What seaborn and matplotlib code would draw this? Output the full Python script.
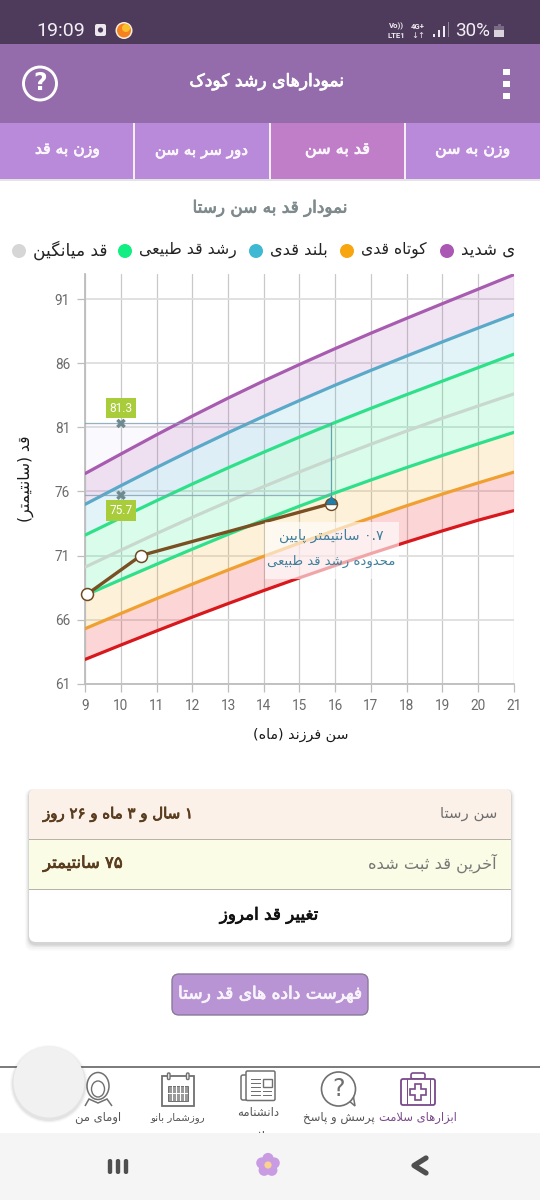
import re
import numpy as np
import pandas as pd
import matplotlib
matplotlib.use("Agg")
import matplotlib.pyplot as plt
import matplotlib.patheffects as pe
import seaborn as sns
from matplotlib.patches import Rectangle, Circle, FancyBboxPatch, Polygon, Ellipse, Wedge
from matplotlib.path import Path

# ---------- data ----------
months = [9, 10, 11, 12, 13, 14, 15, 16, 17, 18, 19, 20, 21]
severe_tall = [77.4, 78.92, 80.42, 81.88, 83.28, 84.62, 85.9, 87.14, 88.34, 89.5, 90.64, 91.77, 92.9]
tall = [75.0, 76.45, 77.87, 79.25, 80.58, 81.86, 83.09, 84.29, 85.44, 86.56, 87.66, 88.74, 89.8]
normal_high = [72.6, 73.95, 75.28, 76.58, 77.84, 79.06, 80.24, 81.38, 82.48, 83.55, 84.6, 85.65, 86.7]
mean_height = [70.1, 71.42, 72.72, 73.98, 75.2, 76.38, 77.52, 78.62, 79.68, 80.71, 81.71, 82.66, 83.6]
normal_low = [67.9, 69.12, 70.32, 71.5, 72.65, 73.77, 74.85, 75.89, 76.89, 77.86, 78.8, 79.71, 80.6]
short = [65.3, 66.48, 67.64, 68.77, 69.87, 70.94, 71.97, 72.97, 73.94, 74.88, 75.79, 76.66, 77.5]
severe_short = [62.9, 64.02, 65.12, 66.2, 67.25, 68.27, 69.26, 70.22, 71.15, 72.05, 72.92, 73.75, 74.5]

baby_months = [9.06, 10.56, 15.88]
baby_height = [68.0, 71.0, 75.05]
guide_month = 10
guide_values = [81.3, 75.7]

x_ticks = list(range(9, 22))
y_ticks = [61, 66, 71, 76, 81, 86, 91]

legend_labels = ["قد میانگین", "رشد قد طبیعی", "بلند قدی", "کوتاه قدی", "قدی شدید"]
legend_colors = ["#d6d6d6", "#12ee82", "#3fb8d4", "#f7a60f", "#ab58b4"]
tab_labels = ["وزن به قد", "دور سر به سن", "قد به سن", "وزن به سن"]
nav_labels = ["اومای من", "روزشمار بانو", "دانشنامه", "پرسش و پاسخ", "ابزارهای سلامت"]

# ---------- Persian shaping: matplotlib has no bidi or joining ----------
FORMS = {
    'آ': (0xFE81, 0xFE82), 'ا': (0xFE8D, 0xFE8E), 'د': (0xFEA9, 0xFEAA), 'ذ': (0xFEAB, 0xFEAC),
    'ر': (0xFEAD, 0xFEAE), 'ز': (0xFEAF, 0xFEB0), 'و': (0xFEED, 0xFEEE), 'ژ': (0xFB8A, 0xFB8B),
    'ب': (0xFE8F, 0xFE90, 0xFE91, 0xFE92), 'ت': (0xFE95, 0xFE96, 0xFE97, 0xFE98),
    'ث': (0xFE99, 0xFE9A, 0xFE9B, 0xFE9C), 'ج': (0xFE9D, 0xFE9E, 0xFE9F, 0xFEA0),
    'ح': (0xFEA1, 0xFEA2, 0xFEA3, 0xFEA4), 'خ': (0xFEA5, 0xFEA6, 0xFEA7, 0xFEA8),
    'س': (0xFEB1, 0xFEB2, 0xFEB3, 0xFEB4), 'ش': (0xFEB5, 0xFEB6, 0xFEB7, 0xFEB8),
    'ص': (0xFEB9, 0xFEBA, 0xFEBB, 0xFEBC), 'ض': (0xFEBD, 0xFEBE, 0xFEBF, 0xFEC0),
    'ط': (0xFEC1, 0xFEC2, 0xFEC3, 0xFEC4), 'ظ': (0xFEC5, 0xFEC6, 0xFEC7, 0xFEC8),
    'ع': (0xFEC9, 0xFECA, 0xFECB, 0xFECC), 'غ': (0xFECD, 0xFECE, 0xFECF, 0xFED0),
    'ف': (0xFED1, 0xFED2, 0xFED3, 0xFED4), 'ق': (0xFED5, 0xFED6, 0xFED7, 0xFED8),
    'ل': (0xFEDD, 0xFEDE, 0xFEDF, 0xFEE0), 'م': (0xFEE1, 0xFEE2, 0xFEE3, 0xFEE4),
    'ن': (0xFEE5, 0xFEE6, 0xFEE7, 0xFEE8), 'ه': (0xFEE9, 0xFEEA, 0xFEEB, 0xFEEC),
    'پ': (0xFB56, 0xFB57, 0xFB58, 0xFB59), 'چ': (0xFB7A, 0xFB7B, 0xFB7C, 0xFB7D),
    'ک': (0xFB8E, 0xFB8F, 0xFB90, 0xFB91), 'گ': (0xFB92, 0xFB93, 0xFB94, 0xFB95),
    'ی': (0xFBFC, 0xFBFD, 0xFBFE, 0xFBFF),
}


def fa(s):
    out = []
    i, n = 0, len(s)
    prev_joins = False
    while i < n:
        c = s[i]
        if c not in FORMS:
            out.append(c)
            prev_joins = False
            i += 1
            continue
        if c == 'ل' and i + 1 < n and s[i + 1] == 'ا':
            out.append(chr(0xFEFC if prev_joins else 0xFEFB))
            prev_joins = False
            i += 2
            continue
        f = FORMS[c]
        next_ok = i + 1 < n and s[i + 1] in FORMS
        if len(f) == 2:
            out.append(chr(f[1] if prev_joins else f[0]))
            prev_joins = False
        else:
            if prev_joins and next_ok:
                out.append(chr(f[3]))
            elif prev_joins:
                out.append(chr(f[1]))
            elif next_ok:
                out.append(chr(f[2]))
            else:
                out.append(chr(f[0]))
            prev_joins = next_ok
        i += 1
    swap = {'(': ')', ')': '('}
    res = ''.join(swap.get(c, c) for c in reversed(out))
    return re.sub(r'[۰-۹][۰-۹.]*', lambda m: m.group()[::-1], res)


# ---------- figure ----------
sns.set_theme(style="white")
plt.rcParams['font.family'] = ['DejaVu Sans']
W, H = 540, 1200
fig = plt.figure(figsize=(W / 100, H / 100), dpi=100, facecolor='white')
ui = fig.add_axes([0, 0, 1, 1], zorder=0)
ui.set_xlim(0, W)
ui.set_ylim(H, 0)
ui.axis('off')
renderer = fig.canvas.get_renderer()


def rect(x0, y0, x1, y1, color, z=1, **kw):
    p = Rectangle((x0, y0), x1 - x0, y1 - y0, facecolor=color, edgecolor='none', zorder=z, **kw)
    ui.add_patch(p)
    return p


def txt(x0, x1, y, s, color='black', weight='normal', family='DejaVu Sans', z=5, size=10, shape=True):
    t = ui.text((x0 + x1) / 2, y, fa(s) if shape else s, color=color, family=family,
                ha='center', va='center', zorder=z, fontsize=size)
    w = t.get_window_extent(renderer).width
    t.set_fontsize(size * (x1 - x0) / w)
    if weight == 'bold':
        t.set_path_effects([pe.withStroke(linewidth=0.55, foreground=color)])
    return t


# status bar, header, tabs
rect(0, 0, W, 44, '#4e3b5c')
rect(0, 44, W, 123, '#946cab')
rect(0, 123, W, 179, '#b88ad9')
rect(270, 123, 405, 179, '#c17ec8', z=1.5)
for sx in (134, 270, 405):
    rect(sx - 0.8, 123, sx + 0.8, 179, '#f3eef6', z=2)
rect(0, 179, W, 180.5, '#e4e4e4', z=2)

txt(37, 85, 30.5, "19:09", '#f2eef4', family='Roboto', shape=False)
ui.add_patch(FancyBboxPatch((95, 24), 11, 12, boxstyle="round,pad=0,rounding_size=2", fc='#ece8ee', ec='none', zorder=3))
ui.add_patch(Circle((100.5, 30), 2.6, fc='#4e3b5c', ec='none', zorder=4))
ui.add_patch(Circle((124, 30.5), 8.5, fc='#f5f0e0', ec='none', zorder=3))
ui.add_patch(Circle((124, 30.5), 7, fc='#f5821f', ec='none', zorder=4))
ui.add_patch(Wedge((126, 28), 4, 0, 360, fc='#fbc02d', ec='none', zorder=4.5))
ui.text(396, 26.5, "Vo))", color='#eeeaf0', fontsize=5.6, family='Roboto', ha='center', va='center', fontweight='bold')
ui.text(396, 35, "LTE1", color='#eeeaf0', fontsize=5.6, family='Roboto', ha='center', va='center', fontweight='bold')
ui.text(418, 26.5, "4G+", color='#eeeaf0', fontsize=5.6, family='Roboto', ha='center', va='center', fontweight='bold')
ui.text(418, 35, "↓↑", color='#eeeaf0', fontsize=6, ha='center', va='center')
for bx, bh, bc in [(433, 3, '#eeeaf0'), (438, 7, '#eeeaf0'), (443, 11, '#eeeaf0'), (447.5, 15, '#8f8598')]:
    rect(bx, 37 - bh, bx + 1.6, 37, bc, z=3)
txt(455, 490, 31, "30%", '#f2eef4', family='Roboto', shape=False)
rect(494, 26, 504, 37, '#d8d2dc', z=3)
rect(494, 26, 504, 30, '#7a6a86', z=3.5)
rect(497.5, 23.5, 500.5, 26, '#7a6a86', z=3)

txt(189, 344, 81.5, "نمودارهای رشد کودک", 'white', 'bold')
ui.add_patch(Circle((40, 83.5), 16.5, fc='none', ec='white', lw=2.1, zorder=3))
ui.text(40, 83.5, "?", color='white', fontsize=17, fontweight='bold', ha='center', va='center', zorder=4)
for dy in (72, 84, 96):
    rect(503, dy - 3, 510, dy + 3, 'white', z=3)

tab_spans = [(35, 100), (155, 248), (305, 370), (435, 510)]
for lab, (a, b) in zip(tab_labels, tab_spans):
    txt(a, b, 150.5, lab, '#fbf7fd', 'bold')

txt(193, 348, 208, "نمودار قد به سن رستا", '#7f8a8d', 'bold')

# legend
dots = [19, 125, 256, 347, 447]
spans = [(33, 107), (139, 236.5), (270, 328), (361, 427)]
for lab, col, dx, (a, b) in zip(legend_labels[:4], legend_colors[:4], dots[:4], spans):
    ui.add_patch(Circle((dx, 251), 7, fc=col, ec='none', zorder=3))
    txt(a, b, 250, lab, '#222222')
ui.add_patch(Circle((dots[4], 251), 7, fc=legend_colors[4], ec='none', zorder=3))
last = ui.text(461, 250, fa(legend_labels[4]), color='#222222', fontsize=12, ha='left', va='center', zorder=5)
last.set_clip_on(True)
last.set_clip_path(Rectangle((455, 235), 59, 30, transform=ui.transData))

# ---------- chart ----------
left, right, top, bottom = 85.3, 513.7, 273.5, 683.7
ax = fig.add_axes([left / W, 1 - bottom / H, (right - left) / W, (bottom - top) / H], zorder=2)
ax.patch.set_alpha(0)

names = ["severe_tall", "tall", "normal_high", "mean", "normal_low", "short", "severe_short"]
series = [severe_tall, tall, normal_high, mean_height, normal_low, short, severe_short]
df = pd.DataFrame({
    "month": months * len(names),
    "height": np.concatenate(series),
    "curve": np.repeat(names, len(months)),
})
palette = dict(zip(names, ["#a85cb0", "#5aa9c8", "#2fe08a", "#c8d8ce", "#2fe08a", "#f0a030", "#d8181c"]))

bands = [(severe_tall, tall, (170 / 255, 85 / 255, 180 / 255), 0.15),
         (tall, normal_high, (63 / 255, 184 / 255, 212 / 255), 0.15),
         (normal_high, normal_low, (0, 240 / 255, 127 / 255), 0.15),
         (normal_low, short, (249 / 255, 165 / 255, 11 / 255), 0.15),
         (short, severe_short, (240 / 255, 16 / 255, 16 / 255), 0.17)]
for up, lo, c, al in bands:
    ax.fill_between(months, lo, up, color=c, alpha=al, lw=0, zorder=2)

sns.lineplot(data=df, x="month", y="height", hue="curve", palette=palette, hue_order=names,
             linewidth=2.3, legend=False, ax=ax, zorder=3, errorbar=None, estimator=None, sort=False)

ax.set_xlim(9, 21)
ax.set_ylim(61, 61 + (bottom - top) / 12.82)
ax.set_xticks(x_ticks)
ax.set_yticks(y_ticks)
ax.set_xlabel("")
ax.set_ylabel("")
ax.set_axisbelow(True)
ax.xaxis.grid(True, color='#c9c9c9', lw=0.9, zorder=1)
ax.yaxis.grid(True, color='#dedede', lw=1.3, zorder=1)
for s in ('top', 'right'):
    ax.spines[s].set_visible(False)
for s in ('left', 'bottom'):
    ax.spines[s].set_visible(True)
    ax.spines[s].set_color('#bdbdbd')
    ax.spines[s].set_linewidth(1.3)
ax.tick_params(axis='both', length=6, width=0.9, color='#bdbdbd', labelcolor='#6b6b6b', labelsize=9.8, left=True, bottom=True, pad=5)
for lb in ax.get_xticklabels() + ax.get_yticklabels():
    lb.set_family('Roboto')

# guide lines and fill
ax.fill_between([months[0], baby_months[-1]], guide_values[1], guide_values[0], color='#8a5ad0', alpha=0.035, lw=0, zorder=2.5)
for gv in guide_values:
    ax.plot([months[0], baby_months[-1]], [gv, gv], color='#7f9fb5', lw=0.9, alpha=0.8, zorder=4)
ax.plot([baby_months[-1], baby_months[-1]], [baby_height[-1], guide_values[0]], color='#5fa6a8', lw=0.9, zorder=4)

sns.scatterplot(x=[guide_month, guide_month], y=guide_values, marker='X', s=48, color='#6f8a8f', edgecolor='none', ax=ax, zorder=5, legend=False)
ax.annotate(f"{guide_values[0]}", (guide_month, guide_values[0]), xytext=(0, 11), textcoords='offset points', ha='center', va='center',
            color='white', fontsize=8.6, family='Roboto', zorder=6,
            bbox=dict(boxstyle='square,pad=0.32', fc='#a9cc3a', ec='none'))
ax.annotate(f"{guide_values[1]}", (guide_month, guide_values[1]), xytext=(0, -11), textcoords='offset points', ha='center', va='center',
            color='white', fontsize=8.6, family='Roboto', zorder=6,
            bbox=dict(boxstyle='square,pad=0.32', fc='#a9cc3a', ec='none'))

# baby's series
sns.lineplot(x=baby_months, y=baby_height, color='#7a4f22', linewidth=2.4, ax=ax, zorder=7, errorbar=None, estimator=None, sort=False)
ax.plot(baby_months[:-1], baby_height[:-1], ls='none', marker='o', ms=8.6, mfc='white', mec='#6e4a22', mew=1.1, zorder=8, clip_on=False)
ax.plot(baby_months[-1:], baby_height[-1:], ls='none', marker='o', ms=8.6, mfc='#1f7fa8', mfcalt='white', fillstyle='top', mec='#6e4a22', mew=1.0, zorder=8)
drop = Path([(-1, 0), (0, 1.8), (1, 0), (-1, 0)], closed=True)
ax.plot(baby_months[-1:], baby_height[-1:], ls='none', marker=drop, ms=13, mfc='#1f7fa8', mec='none', zorder=8.5)

# tooltip
ax.add_patch(Rectangle(((265 - left) / 35.7 + 9, 61 + (bottom - 579) / 12.82), 134 / 35.7, 57 / 12.82,
                       facecolor='white', alpha=0.62, edgecolor='none', zorder=9))
fig_text = fig.add_axes([0, 0, 1, 1], zorder=3)
fig_text.set_xlim(0, W)
fig_text.set_ylim(H, 0)
fig_text.axis('off')
fig_text.patch.set_alpha(0)


def top_txt(x0, x1, y, s, color, rotation=0):
    t = fig_text.text((x0 + x1) / 2, y, fa(s), color=color, ha='center', va='center', fontsize=10, rotation=rotation)
    ext = t.get_window_extent(renderer)
    t.set_fontsize(10 * (x1 - x0) / (ext.height if rotation else ext.width))
    return t


top_txt(279, 383, 536, "۰.۷ سانتیمتر پایین", '#3f7f9c')
top_txt(267, 395, 561, "محدوده رشد قد طبیعی", '#3f7f9c')
top_txt(253, 349, 735, "سن فرزند (ماه)", '#1a1a1a')
top_txt(435, 522, 478.5, "قد (سانتیمتر)", '#1a1a1a', rotation=90).set_position((26, 478.5))

# ---------- info card ----------
cx0, cx1, cy0, cy1 = 29, 511, 789, 942
for grow, al in ((7, 0.02), (5, 0.03), (3, 0.05), (1.5, 0.07)):
    ui.add_patch(FancyBboxPatch((cx0 - grow * 0.6, cy0), cx1 - cx0 + grow * 1.2, cy1 - cy0 + grow + 2,
                                boxstyle="round,pad=0,rounding_size=8", fc='black', ec='none', alpha=al, zorder=1))
card = FancyBboxPatch((cx0, cy0), cx1 - cx0, cy1 - cy0, boxstyle="round,pad=0,rounding_size=7", fc='white', ec='none', zorder=2)
ui.add_patch(card)
r1 = rect(cx0, cy0, cx1, 839, '#fcf1e8', z=2.2)
r2 = rect(cx0, 839, cx1, 889, '#fafce6', z=2.2)
r1.set_clip_path(card)
rect(cx0, 838.5, cx1, 840, '#b8b3aa', z=2.5)
rect(cx0, 888.5, cx1, 890, '#b8b3aa', z=2.5)
txt(440, 497, 813.5, "سن رستا", '#6f6f6f')
txt(43, 193, 814, "۱ سال و ۳ ماه و ۲۶ روز", '#5a3c1e', 'bold')
txt(368, 497, 863.5, "آخرین قد ثبت شده", '#777777')
txt(43, 123, 864, "۷۵ سانتیمتر", '#5a3c1e', 'bold')
txt(220, 319, 915, "تغییر قد امروز", '#111111', 'bold')

ui.add_patch(FancyBboxPatch((172, 974), 196, 41, boxstyle="round,pad=0,rounding_size=7", fc='#b894d4', ec='#8a7a9a', lw=1, zorder=2))
txt(178, 362, 994, "فهرست داده های قد رستا", '#f8f4fb', 'bold')

# ---------- navigation ----------
rect(0, 1066.3, W, 1067.8, '#7d7d7d', z=2)
gray = '#707070'
purple = '#7a4a8a'
nav_x = [98, 178, 258, 338.5, 418]
nav_w = [46, 55, 42, 72, 78]
for lab, nx, nw in zip(nav_labels, nav_x, nav_w):
    y = 1113 if lab == nav_labels[2] else 1118
    txt(nx - nw / 2, nx + nw / 2, y, lab, purple if lab == nav_labels[-1] else '#555555', z=3)
txt(240, 276, 1136, "سلامت", '#555555', z=1)

# person
ui.add_patch(Ellipse((98, 1086), 22, 27, fc='white', ec=gray, lw=1.1, zorder=3))
ui.add_patch(Ellipse((98, 1089), 13, 16, fc='white', ec=gray, lw=1, zorder=3.2))
ui.add_patch(Polygon([(85, 1106), (89, 1099), (98, 1103), (107, 1099), (112, 1106)], closed=False, fc='white', ec=gray, lw=1.1, zorder=3.1))
# calendar
ui.add_patch(Rectangle((162, 1076), 32, 30, fc='white', ec=gray, lw=1.3, zorder=3))
for q in (168.5, 187.5):
    ui.add_patch(FancyBboxPatch((q - 1, 1073), 2.5, 6.5, boxstyle="round,pad=0,rounding_size=1", fc='white', ec=gray, lw=1, zorder=3.2))
ui.add_patch(Rectangle((168, 1086), 20, 15, fc='#9a9a9a', ec=gray, lw=0.7, zorder=3.2))
for gx in (172, 176, 180, 184):
    rect(gx, 1086, gx + 0.7, 1101, 'white', z=3.3)
for gy in (1089.5, 1093, 1096.5):
    rect(168, gy, 188, gy + 0.7, 'white', z=3.3)
# newspaper
ui.add_patch(FancyBboxPatch((241, 1075), 8, 25, boxstyle="round,pad=0,rounding_size=2", fc='white', ec=gray, lw=1.1, zorder=3))
ui.add_patch(FancyBboxPatch((246, 1071), 29, 29.5, boxstyle="round,pad=0,rounding_size=1.5", fc='white', ec=gray, lw=1.1, zorder=3.1))
ui.add_patch(Rectangle((263, 1079), 9, 8, fc='white', ec=gray, lw=1, zorder=3.2))
for ly in (1079, 1083, 1087, 1091, 1095):
    rect(251, ly, 261, ly + 0.9, gray, z=3.2)
for ly in (1091, 1095):
    rect(263, ly, 272, ly + 0.9, gray, z=3.2)
# question bubble
ui.add_patch(Polygon([(348, 1100), (355, 1106), (353, 1094)], closed=True, fc='white', ec=gray, lw=1.1, zorder=3))
ui.add_patch(Circle((338.5, 1089), 17, fc='white', ec=gray, lw=1.2, zorder=3.1))
ui.text(338.5, 1089, "?", color=gray, fontsize=17, ha='center', va='center', zorder=3.3)
# first aid kit
ui.add_patch(FancyBboxPatch((401, 1079), 34, 26, boxstyle="round,pad=0,rounding_size=2", fc='white', ec=purple, lw=1.3, zorder=3))
ui.add_patch(FancyBboxPatch((411, 1073), 14, 6, boxstyle="round,pad=0,rounding_size=2", fc='white', ec=purple, lw=1.2, zorder=2.9))
for q in (406.5, 429.5):
    rect(q, 1079, q + 1.1, 1105, purple, z=3.2)
ui.add_patch(Polygon([(415, 1084), (421, 1084), (421, 1089), (426, 1089), (426, 1095), (421, 1095), (421, 1100),
                      (415, 1100), (415, 1095), (410, 1095), (410, 1089), (415, 1089)], closed=True, fc='white', ec=purple, lw=1.2, zorder=3.3))

# floating button
for rr, al in ((39, 0.025), (38, 0.035), (37, 0.05)):
    ui.add_patch(Circle((49, 1084), rr, fc='black', ec='none', alpha=al, zorder=3.6))
ui.add_patch(Circle((49, 1082), 35.5, fc='#f1f1f1', ec='none', zorder=4))

# bottom bar
rect(0, 1133, W, H, '#f5f5f5', z=2)
for bx in (110, 118, 126):
    ui.add_patch(FancyBboxPatch((bx - 2.2, 1159), 4.4, 15, boxstyle="round,pad=0,rounding_size=2", fc='#4f4f4f', ec='none', zorder=3))
for ang in np.deg2rad([90, 162, 234, 306, 18]):
    ui.add_patch(Circle((268 + 6.5 * np.cos(ang), 1165 - 6.5 * np.sin(ang)), 5.6, fc='#c99be2', ec='none', zorder=3))
ui.add_patch(Circle((268, 1165), 6, fc='#c99be2', ec='none', zorder=3))
ui.add_patch(Circle((268, 1165), 3.6, fc='#f9d28f', ec='none', zorder=3.2))
ui.plot([426, 414, 426], [1158, 1165.5, 1173], color='#4f4f4f', lw=3.8, solid_capstyle='round', solid_joinstyle='round', zorder=3)

fig.savefig("out.png", dpi=100, facecolor='white')
